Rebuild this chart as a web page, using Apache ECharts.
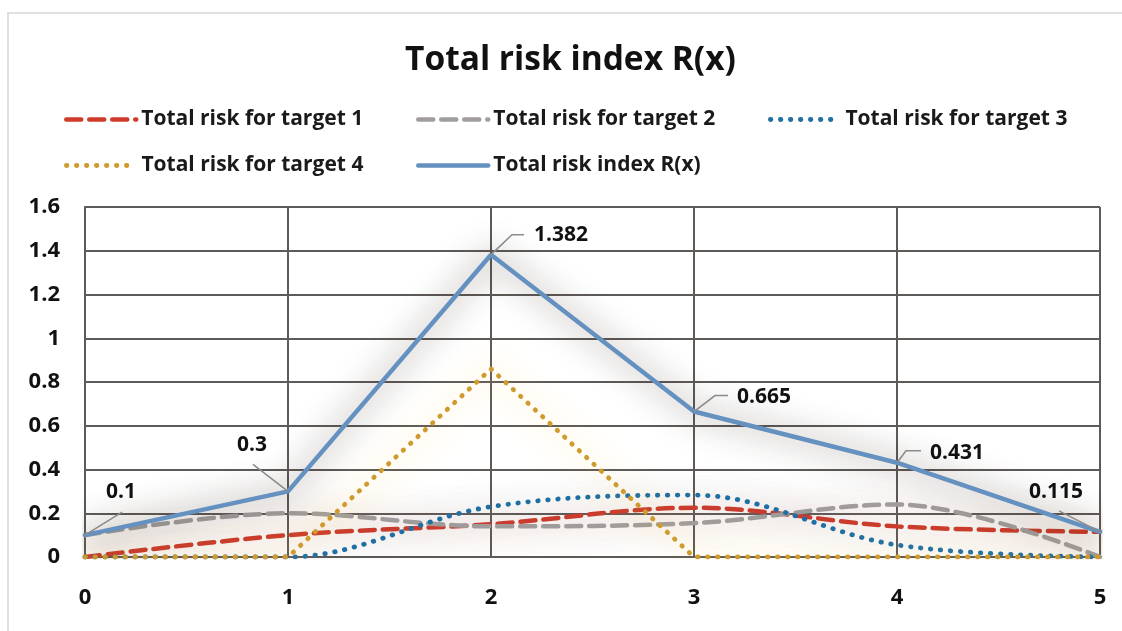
<!DOCTYPE html>
<html>
<head>
<meta charset="utf-8">
<script src="https://cdn.jsdelivr.net/npm/echarts@6/dist/echarts.min.js"></script>
<style>
  html, body { margin: 0; padding: 0; background: #fff; }
  #chart { width: 1122px; height: 631px; }
</style>
</head>
<body>
<div id="chart"></div>
<script>
let chartDom = document.getElementById('chart');
let myChart = echarts.init(chartDom);

// data
const xLabels = ['0', '1', '2', '3', '4', '5'];
const target1 = [0, 0.1, 0.15, 0.225, 0.14, 0.115];
const target2 = [0.1, 0.2, 0.14, 0.155, 0.24, 0];
const target3 = [0, 0, 0.23, 0.283, 0.055, 0];
const target4 = [0, 0, 0.86, 0, 0, 0];
const riskIndex = [0.1, 0.3, 1.382, 0.665, 0.431, 0.115];
const seriesNames = ['Total risk for target 1', 'Total risk for target 2', 'Total risk for target 3',
    'Total risk for target 4', 'Total risk index R(x)'];

// leader line + label offsets (pixels from the point) for R(x) labels
const leaderOffsets = [
    [[37, -23]],
    [[-35, -27]],
    [[21, -20], [33, -20]],
    [[21, -16], [34, -16]],
    [[9, -12], [24, -12]],
    [[-41, -21]]
];
const labelOffsets = [[21, -43], [-51, -46], [43, -20], [43, -15], [33, -10], [-71, -40]];

const font = "'Open Sans', 'Noto Sans', sans-serif";
const gridColor = '#5e5a58';

// line looks per series: colour, dash, width, glow, smoothing
const looks = [
    { color: '#cf3b2b', type: [15, 8], width: 4.5, glow: 'rgba(190,110,50,0.5)', smooth: 0.35 },
    { color: '#a19d9c', type: [15, 8], width: 4.5, glow: 'rgba(140,110,90,0.5)', smooth: 0.35 },
    { color: '#1f6fa3', type: [0.5, 9.5], width: 4.8, glow: 'rgba(70,100,170,0.45)', smooth: 0.35 },
    { color: '#cf9b2e', type: [0.5, 9.5], width: 4.8, glow: 'rgba(255,205,60,0.85)', smooth: false },
    { color: '#6491c0', type: 'solid', width: 4.5, glow: 'rgba(45,30,20,0.8)', smooth: false }
];
const seriesData = [target1, target2, target3, target4, riskIndex];

let seriesList = seriesNames.map(function (name, i) {
    let lk = looks[i];
    return {
        name: name,
        type: 'line',
        data: seriesData[i],
        symbol: 'none',
        smooth: lk.smooth,
        z: 3,
        lineStyle: {
            color: lk.color,
            width: lk.width,
            type: lk.type,
            cap: 'round',
            shadowColor: lk.glow,
            shadowBlur: 32
        },
        itemStyle: { color: lk.color }
    };
});

seriesList.push({
    // R(x) value labels with Excel-style leader lines
    type: 'custom',
    silent: true,
    z: 5,
    data: riskIndex.map(function (v, i) { return [i, v]; }),
    renderItem: function (params, api) {
        let i = params.dataIndex;
        let p = api.coord([api.value(0), api.value(1)]);
        let pts = [p].concat(leaderOffsets[i].map(function (o) {
            return [p[0] + o[0], p[1] + o[1]];
        }));
        return {
            type: 'group',
            children: [{
                type: 'polyline',
                shape: { points: pts },
                style: { stroke: '#8c8c8c', lineWidth: 1.6, fill: null }
            }, {
                type: 'text',
                x: p[0] + labelOffsets[i][0],
                y: p[1] + labelOffsets[i][1],
                style: {
                    text: String(riskIndex[i]),
                    fontFamily: font,
                    fontWeight: 'bold',
                    fontSize: 21,
                    fill: '#111',
                    align: 'left',
                    verticalAlign: 'middle'
                }
            }]
        };
    }
});

let legendPos = [[59, 104], [411, 104], [763, 104], [59, 150], [411, 150]];
let legends = seriesNames.map(function (n, i) {
    return {
        data: [n],
        left: legendPos[i][0],
        top: legendPos[i][1],
        itemWidth: 70,
        itemHeight: 14,
        itemGap: 0,
        itemStyle: { opacity: 0 },
        lineStyle: {
            color: looks[i].color,
            width: looks[i].width,
            type: looks[i].type,
            cap: 'round',
            shadowBlur: 0
        },
        textStyle: {
            fontFamily: font,
            fontWeight: 'bold',
            fontSize: 21,
            color: '#1a1a1a',
            padding: [0, 0, 0, 0]
        }
    };
});

let option = {
    animation: false,
    backgroundColor: '#fff',
    title: {
        text: 'Total risk index R(x)',
        left: 400,
        top: 38,
        textStyle: {
            fontFamily: font,
            fontWeight: 'bold',
            fontSize: 33.5,
            color: '#111'
        }
    },
    graphic: [{
        type: 'rect',
        shape: { x: 8, y: 13, width: 1130, height: 640 },
        style: { fill: 'none', stroke: '#e4dfdf', lineWidth: 2 },
        silent: true
    }],
    legend: legends,
    grid: {
        left: 85,
        right: 22,
        top: 207,
        bottom: 74
    },
    xAxis: {
        type: 'category',
        data: xLabels,
        boundaryGap: false,
        axisLine: { lineStyle: { color: gridColor, width: 2 } },
        axisTick: { show: false },
        splitLine: { show: true, lineStyle: { color: gridColor, width: 2 } },
        axisLabel: {
            margin: 30,
            fontFamily: font,
            fontWeight: 'bold',
            fontSize: 22,
            color: '#111'
        }
    },
    yAxis: {
        type: 'value',
        min: 0,
        max: 1.6,
        interval: 0.2,
        axisLine: { show: true, lineStyle: { color: gridColor, width: 2 } },
        axisTick: { show: false },
        splitLine: { lineStyle: { color: gridColor, width: 2 } },
        axisLabel: {
            margin: 25,
            fontFamily: font,
            fontWeight: 'bold',
            fontSize: 22,
            color: '#111'
        }
    },
    series: seriesList
};
option && myChart.setOption(option);
</script>
</body>
</html>
